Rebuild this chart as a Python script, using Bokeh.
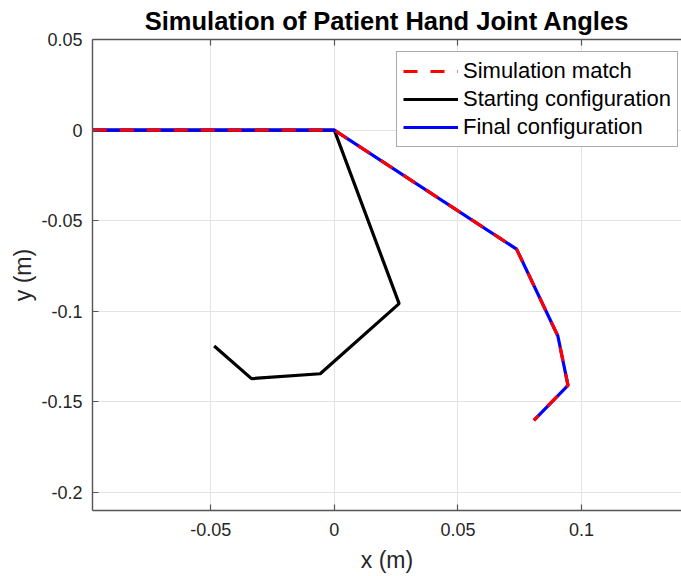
from bokeh.plotting import figure
from bokeh.models import (ColumnDataSource, Legend, LegendItem, LinearAxis, FixedTicker, Range1d)
from bokeh.embed import file_html
from bokeh.resources import INLINE

# ---- data ----
final_x = [-0.0977, 0.0, 0.0737, 0.0904, 0.0945, 0.0807]
final_y = [0.0, 0.0, -0.0657, -0.1137, -0.1409, -0.1602]
sim_x = [-0.0977, 0.0, 0.0737, 0.0904, 0.0945, 0.0807]
sim_y = [0.0, 0.0, -0.0657, -0.1137, -0.1409, -0.1602]
start_x = [-0.0977, 0.0, 0.0262, -0.0057, -0.0335, -0.0486]
start_y = [0.0, 0.0, -0.0958, -0.1345, -0.1372, -0.1192]

x_ticks = [-0.05, 0.0, 0.05, 0.1]
x_tick_labels = ["-0.05", "0", "0.05", "0.1"]
y_ticks = [-0.2, -0.15, -0.1, -0.05, 0.0, 0.05]
y_tick_labels = ["-0.2", "-0.15", "-0.1", "-0.05", "0", "0.05"]

series_names = ["Simulation match", "Starting configuration", "Final configuration"]
title_text = "Simulation of Patient Hand Joint Angles"

FONT = "Liberation Sans"
TXT = "#262626"
AX = "#555555"

p = figure(width=681, height=576, output_backend="svg", toolbar_location=None,
           x_range=Range1d(-0.0978, 0.1404), y_range=Range1d(-0.21, 0.05),
           min_border_left=92, min_border_right=0, min_border_top=39, min_border_bottom=66,
           title=title_text)
p.outline_line_color = None
p.background_fill_color = "white"
p.border_fill_color = "white"

p.title.text_font = FONT
p.title.text_font_size = "25.5px"
p.title.text_font_style = "bold"
p.title.text_color = "black"
p.title.align = "center"
p.title.offset = 10
p.title.standoff = 9

# axes
for ax, ticks, labels in ((p.xaxis[0], x_ticks, x_tick_labels), (p.yaxis[0], y_ticks, y_tick_labels)):
    ax.ticker = FixedTicker(ticks=ticks)
    ax.major_label_overrides = {t: l for t, l in zip(ticks, labels)}
    ax.major_tick_in = 6
    ax.major_tick_out = 0
    ax.minor_tick_line_color = None
    ax.axis_line_color = AX
    ax.axis_line_width = 1.4
    ax.major_tick_line_color = AX
    ax.major_tick_line_width = 1.2
    ax.major_label_text_font = FONT
    ax.major_label_text_font_size = "18px"
    ax.major_label_text_color = TXT
    ax.axis_label_text_font = FONT
    ax.axis_label_text_font_size = "23px"
    ax.axis_label_text_font_style = "normal"
    ax.axis_label_text_color = TXT

p.xaxis.axis_label = "x (m)"
p.yaxis.axis_label = "y (m)"
p.xaxis.major_label_standoff = 12
p.yaxis.major_label_standoff = 10
p.xaxis.axis_label_standoff = 8
p.yaxis.axis_label_standoff = 2

top = LinearAxis(ticker=FixedTicker(ticks=x_ticks))
top.major_label_overrides = {t: "" for t in x_ticks}
top.major_label_text_font_size = "1px"
top.major_label_standoff = 0
top.major_tick_in = 6
top.major_tick_out = 0
top.minor_tick_line_color = None
top.axis_line_color = AX
top.axis_line_width = 1.4
top.major_tick_line_color = AX
top.major_tick_line_width = 1.2
p.add_layout(top, "above")

p.xgrid.ticker = FixedTicker(ticks=x_ticks)
p.ygrid.ticker = FixedTicker(ticks=y_ticks)
p.grid.grid_line_color = "#e3e3e3"
p.grid.grid_line_width = 1

src_start = ColumnDataSource(dict(x=start_x, y=start_y))
src_final = ColumnDataSource(dict(x=final_x, y=final_y))
src_sim = ColumnDataSource(dict(x=sim_x, y=sim_y))

r_start = p.line("x", "y", source=src_start, line_color="black", line_width=3.2)
r_final = p.line("x", "y", source=src_final, line_color="#0000FF", line_width=3.2)
r_sim = p.line("x", "y", source=src_sim, line_color="#FF0000", line_width=3.2, line_dash="14 13")

legend = Legend(items=[LegendItem(label=series_names[0], renderers=[r_sim]),
                       LegendItem(label=series_names[1], renderers=[r_start]),
                       LegendItem(label=series_names[2], renderers=[r_final])],
                location=(304, 363))
legend.margin = 0
legend.padding = 6
legend.spacing = 2
legend.label_height = 26
legend.glyph_height = 26
legend.glyph_width = 55
legend.label_standoff = 5
legend.label_text_font = FONT
legend.label_text_font_size = "22px"
legend.label_text_color = "black"
legend.border_line_color = AX
legend.border_line_width = 1.2
legend.background_fill_color = "white"
legend.background_fill_alpha = 1
p.add_layout(legend, "center")

open("out.html", "w").write(file_html(p, INLINE))
